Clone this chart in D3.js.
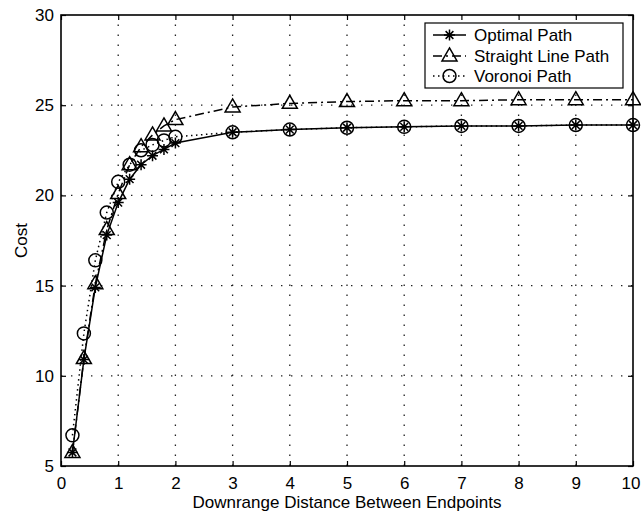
<!DOCTYPE html>
<html>
<head>
<meta charset="utf-8">
<script src="https://cdn.jsdelivr.net/npm/d3@7"></script>
<style>
  html, body { margin: 0; padding: 0; background: #fff; }
  svg { display: block; }
  text { font-family: "Liberation Sans", Arial, Helvetica, sans-serif; fill: #000; }
</style>
</head>
<body>
<svg id="chart" width="641" height="516"></svg>
<script>
// Downrange distance between endpoints
const distances = [0.2, 0.4, 0.6, 0.8, 1.0, 1.2, 1.4, 1.6, 1.8, 2.0, 3, 4, 5, 6, 7, 8, 9, 10];

// Path cost for each planning method
const optimalCost  = [5.75, 10.9, 14.9, 17.8, 19.6, 20.9, 21.7, 22.2, 22.55, 22.9, 23.5, 23.65, 23.75, 23.8, 23.85, 23.85, 23.9, 23.9];
const straightCost = [5.75, 10.95, 15.1, 18.1, 20.1, 21.7, 22.7, 23.35, 23.85, 24.2, 24.9, 25.1, 25.2, 25.25, 25.25, 25.3, 25.3, 25.3];
const voronoiCost  = [6.7, 12.35, 16.4, 19.05, 20.75, 21.7, 22.5, 22.8, 23.05, 23.25, 23.5, 23.65, 23.75, 23.8, 23.85, 23.85, 23.9, 23.9];

const seriesNames = ["Optimal Path", "Straight Line Path", "Voronoi Path"];

const xTicks = [0, 1, 2, 3, 4, 5, 6, 7, 8, 9, 10];
const yTicks = [5, 10, 15, 20, 25, 30];

const svg = d3.select("#chart");
const plot = { left: 61, right: 633, top: 15, bottom: 466 };

const x = d3.scaleLinear().domain([0, 10]).range([plot.left, plot.right]);
const y = d3.scaleLinear().domain([5, 30]).range([plot.bottom, plot.top]);

// Dotted grid
const grid = svg.append("g").attr("stroke", "#222").attr("stroke-width", 1.3)
  .attr("stroke-dasharray", "1.4,8.6");
grid.selectAll("line.gx").data(xTicks.slice(1, -1)).join("line")
  .attr("x1", d => x(d)).attr("x2", d => x(d))
  .attr("y1", plot.bottom).attr("y2", plot.top);
grid.selectAll("line.gy").data(yTicks.slice(1, -1)).join("line")
  .attr("y1", d => y(d)).attr("y2", d => y(d))
  .attr("x1", plot.left).attr("x2", plot.right);

// Axes with inward ticks on all four sides
const tickLen = 5;
const axBottom = svg.append("g").attr("transform", `translate(0,${plot.bottom})`)
  .call(d3.axisBottom(x).tickValues(xTicks).tickSize(-tickLen).tickPadding(11).tickFormat(d3.format("d")));
const axTop = svg.append("g").attr("transform", `translate(0,${plot.top})`)
  .call(d3.axisTop(x).tickValues(xTicks).tickSize(-tickLen).tickFormat(""));
const axLeft = svg.append("g").attr("transform", `translate(${plot.left},0)`)
  .call(d3.axisLeft(y).tickValues(yTicks).tickSize(-tickLen).tickPadding(7).tickFormat(d3.format("d")));
const axRight = svg.append("g").attr("transform", `translate(${plot.right},0)`)
  .call(d3.axisRight(y).tickValues(yTicks).tickSize(-tickLen).tickFormat(""));

[axBottom, axTop, axLeft, axRight].forEach(a => {
  a.select(".domain").remove();
  a.selectAll(".tick line").attr("stroke", "#000").attr("stroke-width", 1.2);
  a.selectAll("text").style("font-size", "17px")
    .style("font-family", '"Liberation Sans", Arial, Helvetica, sans-serif').attr("fill", "#000");
});
axBottom.selectAll("text").attr("dy", "0.71em");
// keep the last x label inside the page edge
axBottom.selectAll(".tick").filter(d => d === 10).select("text")
  .attr("text-anchor", "end").attr("x", 640 - x(10));

// Plot frame
svg.append("rect")
  .attr("x", plot.left).attr("y", plot.top)
  .attr("width", plot.right - plot.left).attr("height", plot.bottom - plot.top)
  .attr("fill", "none").attr("stroke", "#000").attr("stroke-width", 1.6);

// Axis titles
svg.append("text")
  .attr("x", (plot.left + plot.right) / 2).attr("y", 508)
  .attr("text-anchor", "middle").style("font-size", "17px")
  .text("Downrange Distance Between Endpoints");
svg.append("text")
  .attr("transform", `translate(27,${(plot.top + plot.bottom) / 2}) rotate(-90)`)
  .attr("text-anchor", "middle").style("font-size", "17px")
  .text("Cost");

// Marker drawers
function drawStar(g, cx, cy) {
  const r = 5.5, d = r * Math.SQRT1_2;
  g.append("path")
    .attr("d", `M${cx - r},${cy}L${cx + r},${cy}M${cx},${cy - r}L${cx},${cy + r}` +
               `M${cx - d},${cy - d}L${cx + d},${cy + d}M${cx - d},${cy + d}L${cx + d},${cy - d}`)
    .attr("stroke", "#000").attr("stroke-width", 1.5).attr("fill", "none");
}
function drawTriangle(g, cx, cy) {
  const h = 13, w = 15;
  g.append("path")
    .attr("d", `M${cx},${cy - h * 0.62}L${cx + w / 2},${cy + h * 0.38}L${cx - w / 2},${cy + h * 0.38}Z`)
    .attr("stroke", "#000").attr("stroke-width", 1.5).attr("fill", "none");
}
function drawCircle(g, cx, cy) {
  g.append("circle").attr("cx", cx).attr("cy", cy).attr("r", 6.5)
    .attr("stroke", "#000").attr("stroke-width", 1.5).attr("fill", "none");
}

const series = [
  { name: seriesNames[0], values: optimalCost,  dash: null,          marker: drawStar },
  { name: seriesNames[1], values: straightCost, dash: "9,4,2,4",     marker: drawTriangle },
  { name: seriesNames[2], values: voronoiCost,  dash: "1.5,3.5",     marker: drawCircle }
];

const line = d3.line().x(d => x(d[0])).y(d => y(d[1]));

series.forEach(s => {
  const pts = distances.map((d, i) => [d, s.values[i]]);
  const g = svg.append("g");
  g.append("path").datum(pts).attr("d", line)
    .attr("fill", "none").attr("stroke", "#000").attr("stroke-width", 1.5)
    .attr("stroke-dasharray", s.dash);
  pts.forEach(p => s.marker(g, x(p[0]), y(p[1])));
});

// Legend
const leg = svg.append("g");
leg.append("rect").attr("x", 425).attr("y", 23).attr("width", 198).attr("height", 65)
  .attr("fill", "#fff").attr("stroke", "#000").attr("stroke-width", 1.2);
const rowY = [35, 56, 76];
series.forEach((s, i) => {
  leg.append("line").attr("x1", 433).attr("x2", 466).attr("y1", rowY[i]).attr("y2", rowY[i])
    .attr("stroke", "#000").attr("stroke-width", 1.5).attr("stroke-dasharray", s.dash);
  s.marker(leg, 449.5, rowY[i]);
  leg.append("text").attr("x", 474).attr("y", rowY[i]).attr("dy", "0.36em")
    .style("font-size", "17px").text(s.name);
});
</script>
</body>
</html>
